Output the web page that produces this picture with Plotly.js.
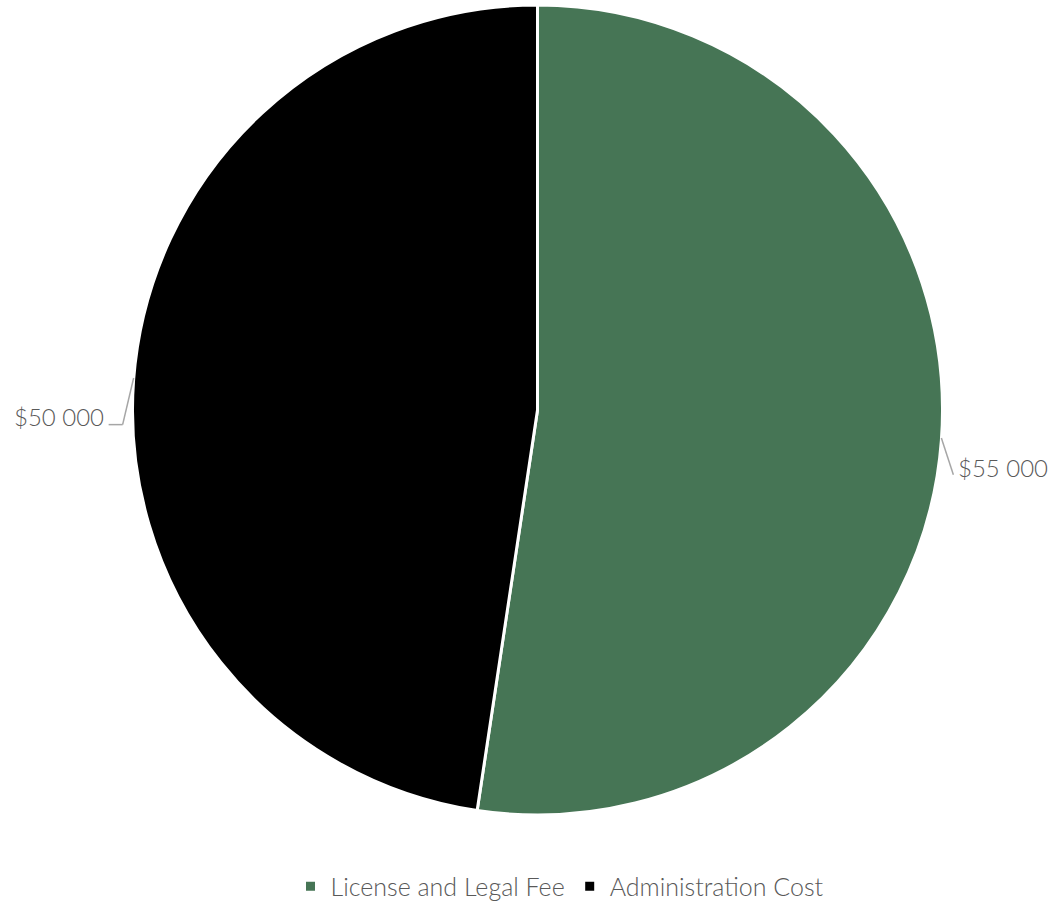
<!DOCTYPE html>
<html>
<head>
<meta charset="utf-8">
<script src="https://cdn.plot.ly/plotly-3.0.1.min.js"></script>
<style>html,body{margin:0;padding:0;background:#fff;}#chart{width:1053px;height:910px;}</style>
</head>
<body>
<div id="chart"></div>
<script>
// Data
const categories = ["License and Legal Fee", "Administration Cost"];
const values = [55000, 50000];
const colors = ["#467555", "#000000"];

// Style / layout constants
const W = 1053, H = 910;
const M = {l: 22, r: 0, t: 5, b: 89};
const plotW = W - M.l - M.r, plotH = H - M.t - M.b;
const FONT = "Lato, 'Open Sans', sans-serif";
const GRAY = "#595959";
const leader = [
  {dx: 12, dy: 37, hx: 0, side: 1},
  {dx: -11, dy: 47, hx: -14, side: -1}
];

function fmt(v){ return "$" + String(v).replace(/\B(?=(\d{3})+(?!\d))/g, " "); }

const cx = M.l + plotW/2, cy = M.t + plotH/2 - 2;
const R = Math.min(plotW, plotH)/2 - 3;
const px2x = p => (p - M.l)/plotW;
const py2y = p => (M.t + plotH - p)/plotH;

const total = values.reduce((a,b)=>a+b,0);
let cum = 0;
const shapes = [], annotations = [];
values.forEach((v,i)=>{
  const mid = (cum + v/2)/total * 2*Math.PI; cum += v;
  const x0 = cx + R*Math.sin(mid), y0 = cy - R*Math.cos(mid);
  const L = leader[i];
  const x1 = x0 + L.dx, y1 = y0 + L.dy;
  const x2 = x1 + L.hx, y2 = y1;
  shapes.push({type:"line", xref:"paper", yref:"paper", x0:px2x(x0), y0:py2y(y0), x1:px2x(x1), y1:py2y(y1), line:{color:"#a6a6a6", width:1.5}});
  if (L.hx) shapes.push({type:"line", xref:"paper", yref:"paper", x0:px2x(x1), y0:py2y(y1), x1:px2x(x2), y1:py2y(y2), line:{color:"#a6a6a6", width:1.5}});
  const tx = L.side > 0 ? x2 + 3 : x2 - 3;
  const ty = L.side > 0 ? y2 - 7 : y2 - 8;
  annotations.push({xref:"paper", yref:"paper", x:px2x(tx), y:py2y(ty), text:fmt(v), showarrow:false,
    xanchor: L.side > 0 ? "left" : "right", yanchor:"middle",
    font:{family:FONT, size:24, color:GRAY, weight:300}});
});

const trace = {
  type: "pie",
  labels: categories,
  values: values,
  marker: {colors: colors, line: {color: "#ffffff", width: 3}},
  sort: false,
  direction: "clockwise",
  rotation: 0,
  textinfo: "none",
  hoverinfo: "label+value",
  domain: {x:[0,1], y:[0,1]}
};

const layout = {
  width: W, height: H,
  margin: M,
  paper_bgcolor: "#fff",
  showlegend: true,
  legend: {orientation:"h", x:px2x(560), xanchor:"center", y:py2y(893), yanchor:"middle",
    font:{family:FONT, size:25, color:GRAY, weight:300}, itemwidth:30, tracegroupgap:0},
  shapes: shapes,
  annotations: annotations
};

Plotly.newPlot("chart", [trace], layout, {displayModeBar:false, staticPlot:true});
</script>
</body>
</html>
